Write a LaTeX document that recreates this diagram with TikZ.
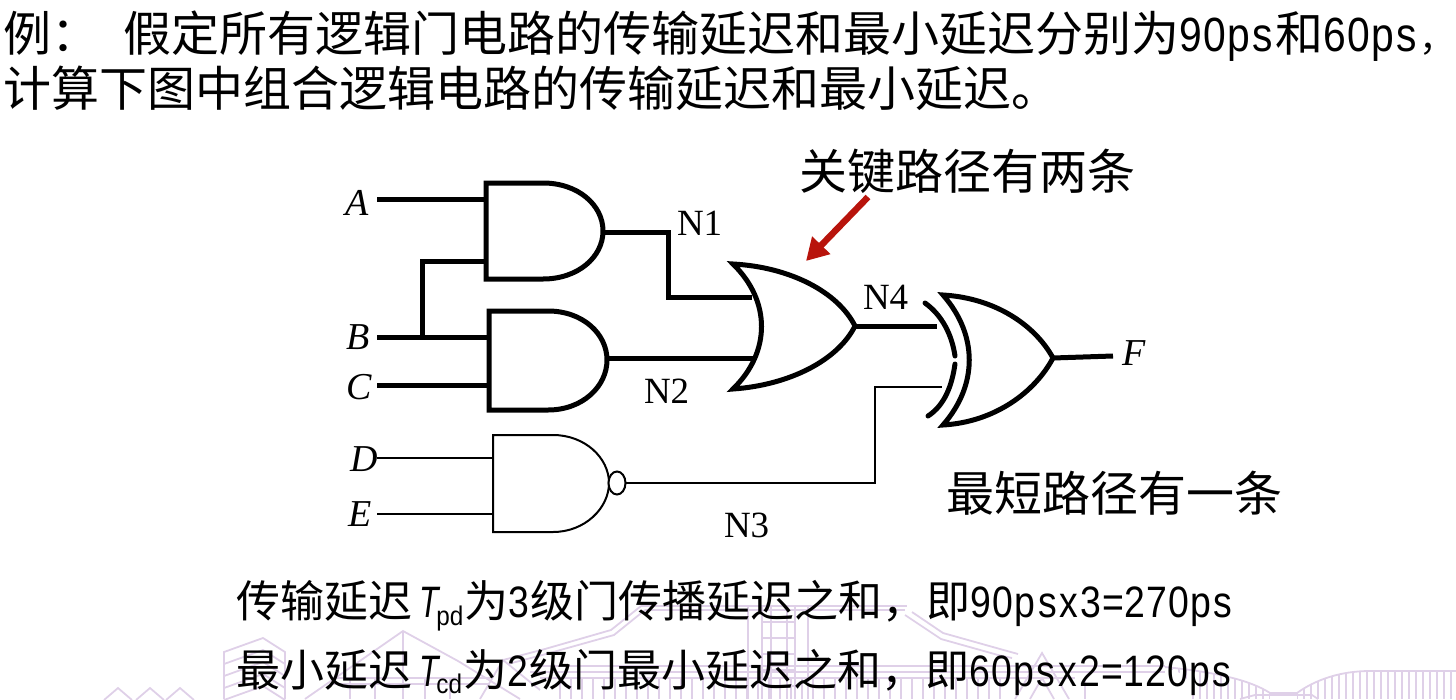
\documentclass[tikz,border=0pt]{standalone}
\usepackage{fontspec}
\usetikzlibrary{arrows.meta}
\setmainfont{Noto Sans CJK SC}
\newfontfamily\narLat[FakeStretch=0.85]{Liberation Sans}
\newfontfamily\serifLat{Liberation Serif}
\newfontfamily\tLat[FakeStretch=0.72]{Liberation Sans}
\newfontfamily\subLat[FakeStretch=0.9]{Liberation Sans}
\newcommand\szz[1]{\fontsize{#1}{#1}\selectfont}
\def\fwstep#1{\ifx#1\relax\else\makebox[\fwwd][c]{#1}\expandafter\fwstep\fi}
\newcommand\mbig[1]{{\narLat\szz{48}\def\fwwd{24pt}\fwstep #1\relax}}
\newcommand\msmall[1]{{\narLat\szz{44}\def\fwwd{22pt}\fwstep #1\relax}}
\definecolor{wmk}{HTML}{DFD0E8}
\definecolor{arrred}{HTML}{B8140C}
\tikzset{
  txt/.style={inner sep=0pt,outer sep=0pt,anchor=base west},
  head/.style={txt,font=\szz{48}},
  note/.style={txt,font=\szz{48}},
  foot/.style={txt,font=\szz{44}},
  pinit/.style={txt,font=\serifLat\itshape\szz{38}},
  netlbl/.style={txt,font=\serifLat\szz{37}},
  thick wire/.style={line width=5pt,line join=miter},
  thin wire/.style={line width=2pt,line join=miter},
  thick gate/.style={draw,line width=5pt,line join=miter,fill=white},
  thin gate/.style={draw,line width=2pt,line join=miter,fill=white},
  wm/.style={draw=wmk,line width=1.8pt,line join=miter},
}
\begin{document}
\begin{tikzpicture}[x=1pt,y=-1pt]
\useasboundingbox (0,0) rectangle (1456,699);
% ---- watermark ----
\begin{scope}
\clip (0,600) rectangle (1456,699);
\foreach \x in {118,150,180}{
  \draw[wm] (\x-14,700) -- (\x,688) -- (\x+14,700);
}
% left pavilion
\draw[wm] (224,699) -- (224,652) -- (263,638) -- (285,652) -- (285,699);
\foreach \d in {0,12,24,36}{
  \draw[wm] (224,664+\d) -- (263,650+\d) -- (285,664+\d);
}
% long roof line on the left
\draw[wm] (305,699) -- (403,631) -- (458,661) -- (520,699);
\draw[wm] (403,631) -- (403,699);
\draw[wm] (330,678) -- (490,678);
\draw[wm] (330,684) -- (490,684);
\foreach \x in {350,375,425,450}{ \draw[wm] (\x,678) -- (\x,699); }
% main roof
\draw[wm] (480,699) -- (503,660) -- (540,690);
\draw[wm] (503,660) -- (545,649) -- (611,630) -- (641,606);
\draw[wm] (508,664) -- (546,654) -- (614,635) -- (645,610);
\draw[wm] (641,606) -- (907,606);
\draw[wm] (645,610) -- (905,610);
\draw[wm] (912,612) -- (943,633) -- (1000,649) -- (1018,654);
\draw[wm] (905,615) -- (941,639) -- (998,655) -- (1012,658);
% horizontal bands
\draw[wm] (530,666) -- (1165,666);
\draw[wm] (530,672) -- (1165,672);
\draw[wm] (540,678) -- (1075,678);
\foreach \x in {560,571,...,1000}{ \draw[wm] (\x,678) -- (\x,699); }
% central tower
\draw[wm] (748,606) -- (748,699);
\draw[wm] (762,606) -- (762,699);
\draw[wm] (771,606) -- (771,699);
\draw[wm] (787,606) -- (787,699);
\draw[wm] (795,606) -- (795,699);
\draw[wm] (808,606) -- (808,699);
\foreach \y in {622,638,654,670,686}{ \draw[wm] (762,\y) -- (795,\y); }
% little gable on the right
\draw[wm] (1015,699) -- (1042,653) -- (1069,699);
\draw[wm] (1030,699) -- (1042,678) -- (1054,699);
\draw[wm] (1085,678) -- (1085,699);
% domes
\begin{scope}
\clip (1190,699) .. controls (1195,690) and (1190,672) .. (1165,668)
  .. controls (1215,672) and (1250,680) .. (1270,693) -- (1270,699) -- cycle;
\foreach \x in {1165,1172,...,1270}{ \draw[wm] (\x,660) -- (\x,699); }
\end{scope}
\begin{scope}
\clip (1297,699) -- (1297,693) .. controls (1315,680) and (1340,671) .. (1370,671)
  -- (1456,671) -- (1456,699) -- cycle;
\foreach \x in {1297,1304,...,1456}{ \draw[wm] (\x,660) -- (\x,699); }
\end{scope}
\draw[wm] (1165,667) .. controls (1215,672) and (1250,680) .. (1270,693) -- (1297,693)
  .. controls (1315,680) and (1340,671) .. (1370,671) -- (1456,671);
\draw[wm] (1240,699) -- (1255,695) -- (1312,695) -- (1318,699);
\end{scope}
% ---- headline ----
\node[head] (line1) at (3,51) {例：\hspace*{24pt}假定所有逻辑门电路的传输延迟和最小延迟分别为\mbig{90ps}和\mbig{60ps}{\szz{36}，}};
\node[head] (line2) at (3,106) {计算下图中组合逻辑电路的传输延迟和最小延迟。};
% ---- pins ----
\coordinate (Ain) at (377,199);
\coordinate (Bin) at (377,337);
\coordinate (Cin) at (377,385);
\coordinate (Din) at (377,458);
\coordinate (Ein) at (377,514);
\coordinate (Bjn) at (422,339);
\coordinate (Bup) at (422,261);
\coordinate (g1a) at (486,199);
\coordinate (g1b) at (486,261);
\coordinate (g1o) at (603,232);
\coordinate (g2a) at (489,337);
\coordinate (g2b) at (489,385);
\coordinate (g2o) at (607,358);
\coordinate (g3a) at (493,458);
\coordinate (g3b) at (493,514);
\coordinate (g3o) at (626,483);
\coordinate (n1a) at (668,232);
\coordinate (n1b) at (668,297);
\coordinate (g4a) at (752,297);
\coordinate (g4b) at (754,358);
\coordinate (g4o) at (855,326);
\coordinate (g5a) at (937,326);
\coordinate (n3a) at (875,483);
\coordinate (n3b) at (875,387);
\coordinate (g5b) at (942,387);
\coordinate (g5o) at (1053,358);
\coordinate (Fout) at (1113,356);
\coordinate (arS) at (868,197);
\coordinate (arE) at (806,261);
% ---- wires ----
\draw[thick wire] (Ain) -- (g1a);
\draw[thick wire] (Bin) -- (g2a);
\draw[thick wire] (Cin) -- (g2b);
\draw[thick wire] (Bjn) -- (Bup) -- (g1b);
\draw[thick wire] (g1o) -- (n1a) -- (n1b) -- (g4a);
\draw[thick wire] (g2o) -- (g4b);
\draw[thick wire] (g4o) -- (g5a);
\draw[thick wire] (g5o) -- (Fout);
\draw[thin wire] (Din) -- (g3a);
\draw[thin wire] (Ein) -- (g3b);
\draw[line width=2.4pt] (g3o) -- (n3a) -- (n3b) -- (g5b);
% ---- gates ----
\path[thick gate] (486,183) -- (543,183) .. controls (578,183) and (603,205) .. (603,231)
  .. controls (603,257) and (578,279) .. (543,279) -- (486,279) -- cycle;
\path[thick gate] (489,311) -- (548,311) .. controls (583,311) and (607,334) .. (607,360)
  .. controls (607,386) and (583,410) .. (548,410) -- (489,410) -- cycle;
\path[thin gate] (493,435) -- (553,435) .. controls (585,435) and (609,458) .. (609,483)
  .. controls (609,508) and (585,532) .. (553,532) -- (493,532) -- cycle;
\path[thin gate] (617,483) ellipse [x radius=8.5,y radius=11.5];
\path[thick gate] (733,264) .. controls (790,267) and (838,292) .. (855,326)
  .. controls (838,360) and (790,385) .. (733,389)
  .. controls (771,352) and (771,301) .. (733,264) -- cycle;
\path[thick gate] (943,295) .. controls (995,298) and (1035,325) .. (1053,358)
  .. controls (1035,392) and (995,422) .. (943,425)
  .. controls (978,385) and (978,335) .. (943,295) -- cycle;
\draw[line width=5pt,line cap=round] (925,303) .. controls (942,315) and (952,335) .. (955,356);
\draw[line width=5pt,line cap=round] (955,364) .. controls (952,385) and (945,405) .. (928,416);
% ---- red arrow ----
\draw[arrred,line width=6.5pt,-{Triangle[length=22pt,width=24pt]}] (arS) -- (arE);
% ---- pin and net labels ----
\node[pinit] (labA) at (345,215) {A};
\node[pinit] (labB) at (346,349) {B};
\node[pinit] (labC) at (346,399) {C};
\node[pinit] (labD) at (350,471) {D};
\node[pinit] (labE) at (348,526) {E};
\node[pinit] (labF) at (1122,365) {F};
\node[netlbl] (labN1) at (677,235) {N1};
\node[netlbl] (labN2) at (644,403) {N2};
\node[netlbl] (labN3) at (724,537) {N3};
\node[netlbl] (labN4) at (863,309) {N4};
% ---- notes ----
\node[note] (crit) at (799,189) {关键路径有两条};
\node[note] (shrt) at (946,511) {最短路径有一条};
\node[foot] (foot1) at (236,617) {传输延迟\hspace*{7pt}{\tLat\itshape\szz{44}T}\hspace*{-2pt}\raisebox{-8pt}{\subLat\szz{27}pd}\hspace*{1pt}为\msmall{3}级门传播延迟之和，即\msmall{90psx3=270ps}};
\node[foot] (foot2) at (236,686) {最小延迟\hspace*{7pt}{\tLat\itshape\szz{44}T}\hspace*{-2pt}\raisebox{-7pt}{\subLat\szz{27}cd}\hspace*{1pt}为\msmall{2}级门最小延迟之和，即\msmall{60psx2=120ps}};
\end{tikzpicture}
\end{document}
